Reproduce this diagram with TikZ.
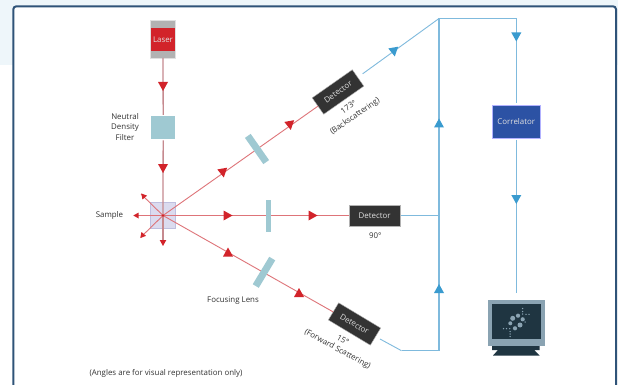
\documentclass[tikz,border=0pt]{standalone}
\usepackage{fontspec}
\setmainfont{Open Sans}
\definecolor{framec}{HTML}{2F5378}
\definecolor{pagec}{HTML}{EEF6FA}
\definecolor{redc}{HTML}{D2232A}
\definecolor{beamv}{HTML}{C68A8F}
\definecolor{beamr}{HTML}{DE7479}
\definecolor{bluec}{HTML}{3A9BCF}
\definecolor{wirec}{HTML}{7FBADD}
\definecolor{lensc}{HTML}{9FC9D2}
\definecolor{darkc}{HTML}{333333}
\definecolor{corrc}{HTML}{2C52A4}
\definecolor{scr}{HTML}{1F3541}
\definecolor{mon}{HTML}{8AA3B2}
\newcommand{\tri}[5]{\fill[#1,shift={(#2,#3)},rotate=#4] (-#5,0.9*#5) -- (#5,0.9*#5) -- (0,-0.9*#5) -- cycle;}
\tikzset{
  x=1pt,y=-1pt,
  lbl/.style={font=\fontsize{7.9}{9}\selectfont,text=black!80,inner sep=0pt,align=center},
  wlbl/.style={font=\fontsize{7.9}{9}\selectfont,text=white!88!black,inner sep=0pt},
  det/.style={fill=darkc,draw=black!30,line width=.4pt,minimum width=49pt,minimum height=20pt,inner sep=0pt,outer sep=0pt},
  lens/.style={fill=lensc,inner sep=0pt,outer sep=0pt},
  vbeam/.style={beamv,line width=1.3pt},
  rbeam/.style={beamr,line width=.9pt},
  wire/.style={wirec,line width=.9pt},
  vwire/.style={wirec,line width=1.2pt},
}
\begin{document}
\begin{tikzpicture}
\useasboundingbox (0,0) rectangle (618,385);
\fill[white] (0,0) rectangle (618,385);
\fill[pagec] (0,0) rectangle (618,65);
\fill[white,draw=framec,line width=2pt,rounded corners=3pt] (13.3,6.3) rectangle (616,400);

% laser
\node[fill=black!30,draw=black!12,line width=.4pt,minimum width=25pt,minimum height=38pt,inner sep=0pt,outer sep=0pt] (laser) at (163,39) {};
\node[fill=redc,minimum width=24.5pt,minimum height=23.5pt,inner sep=0pt,outer sep=0pt,wlbl] (laserlabel) at (163,39.5) {Laser};
% ND filter
\node[fill=lensc,minimum width=23.5pt,minimum height=23.5pt,inner sep=0pt,outer sep=1pt] (ndf) at (163.2,127.7) {};
\node[lbl,anchor=center] (ndflabel) at (125,126.7) {Neutral\\[1.6pt]Density\\[1.6pt]Filter};
% sample
\node[fill=blue!55!black!14,draw=blue!50!black!25,line width=.6pt,minimum width=25.5pt,minimum height=25.5pt,inner sep=0pt,outer sep=0pt] (sample) at (163,215.5) {};
\coordinate (sc) at (163,215.5);
\node[lbl] (samplelabel) at (109.5,215.5) {Sample};
% free ends round the sample
\coordinate (s1) at (141,194);
\coordinate (s2) at (135,215.5);
\coordinate (s3) at (141,237);
\coordinate (s4) at (163,243);

% lenses
\node[lbl] (lenslabel) at (233,301) {Focusing Lens};

% detectors
\node[det,rotate=35,wlbl] (d1) at (338,92) {Detector};
\node[det,minimum width=50.5pt,minimum height=21pt,wlbl] (d2) at (374.7,215.5) {Detector};
\node[det,rotate=-31,wlbl] (d3) at (354.5,324) {Detector};
\node[lbl,rotate=35] (d1a) at (348.5,107) {173°};
\node[lbl,rotate=35] (d1b) at (355,116.5) {(Backscattering)};
\node[lbl] (d2a) at (375.3,236) {90°};
\node[lbl,rotate=-30] (d3a) at (343,340) {15°};
\node[lbl,rotate=-29] (d3b) at (337.5,349.3) {(Forward Scattering)};

% correlator, monitor
\node[fill=corrc,draw=blue!30!white,line width=.4pt,minimum width=48.5pt,minimum height=33.5pt,inner sep=0pt,outer sep=1.5pt,wlbl] (corr) at (516.3,121.7) {Correlator};
\node[fill=mon,minimum width=57.5pt,minimum height=46pt,inner sep=0pt,outer sep=0pt] (monitor) at (516.3,323) {};
\node[fill=scr,minimum width=48.5pt,minimum height=35.5pt,inner sep=0pt] (screen) at (516.3,321.3) {};
\fill[scr] (492,346) -- (539.5,346) -- (539.5,350) -- (534,350) -- (539.5,355.5) -- (493,355.5) -- (498,350) -- (492,350) -- cycle;
\fill[mon] (512.7,318.3) circle (2.5) (518,315.7) circle (2.1) (522.7,319.3) circle (2.1) (510.3,323.3) circle (2) (515,328.3) circle (2.1) (520,325) circle (2.5);
\foreach \q in {(522.7,308.5),(522.7,311.5),(522.7,314),(526,314.3),(529,314.3),(525,322),(509.7,328.7),(506.5,328.7),(503.5,328.7),(510,331.5),(510,334),(510,336.5)}
  \fill[mon] \q circle (.75);

% free ends of wires
\coordinate (c1) at (439,18.5);
\coordinate (c2) at (516.3,18.5);
\coordinate (c3) at (439,215.5);
\coordinate (c4) at (439,350.7);
\coordinate (c5) at (401.5,350.7);
\coordinate (m1) at (516.3,293);

% beams
\draw[vbeam] (laser) -- (ndf);
\draw[vbeam] (ndf) -- (sc);
\draw[vbeam] (sc) -- (s4);
\draw[rbeam] (sc) -- (s1);
\draw[rbeam] (sc) -- (s2);
\draw[rbeam] (sc) -- (s3);
\draw[rbeam] (sc) -- (d1);
\draw[rbeam] (sc) -- (d2);
\draw[rbeam] (sc) -- (d3);
\fill[redc] (sc) circle (1.3);
\node[lens,minimum width=7pt,minimum height=32pt,rotate=35] (lensa) at (257,149) {};
\node[lens,minimum width=5pt,minimum height=32pt] (lensb) at (268.7,216) {};
\node[lens,minimum width=7pt,minimum height=32pt,rotate=-31] (lensc) at (264,272.3) {};

% wires
\draw[wire,shorten <=2pt] (d1) ++(23,-17) -- (c1);
\draw[vwire] (c1) -- (c2);
\draw[vwire] (c2) -- (corr);
\draw[vwire] (corr) -- (m1);
\draw[vwire] (c1) -- (c4);
\draw[vwire,shorten <=1.5pt] (d2) -- (c3);
\draw[vwire] (c4) -- (c5);
\draw[wire] (c5) -- (380,339);

% arrowheads
\tri{redc}{163}{86.5}{180}{5}
\tri{redc}{163}{168.5}{180}{5}
\tri{redc}{223}{173}{-170}{5}
\tri{redc}{290}{125.5}{-170}{5}
\tri{redc}{228}{215.5}{-90}{5}
\tri{redc}{313}{215.5}{-90}{5}
\tri{redc}{228}{252}{0}{5}
\tri{redc}{299}{292.5}{0}{5}
\tri{redc}{163}{243}{180}{3.3}
\tri{redc}{136}{215.5}{90}{3}
\tri{redc}{143}{195.5}{40}{3}
\tri{redc}{142}{236}{140}{3}
\tri{bluec}{394}{52}{-170}{5}
\tri{bluec}{516.3}{37}{180}{5}
\tri{bluec}{516.3}{199.5}{180}{5}
\tri{bluec}{439}{123}{0}{5}
\tri{bluec}{439}{288.5}{0}{5}

\node[lbl] (note) at (166,373.5) {(Angles are for visual representation only)};
\end{tikzpicture}
\end{document}
